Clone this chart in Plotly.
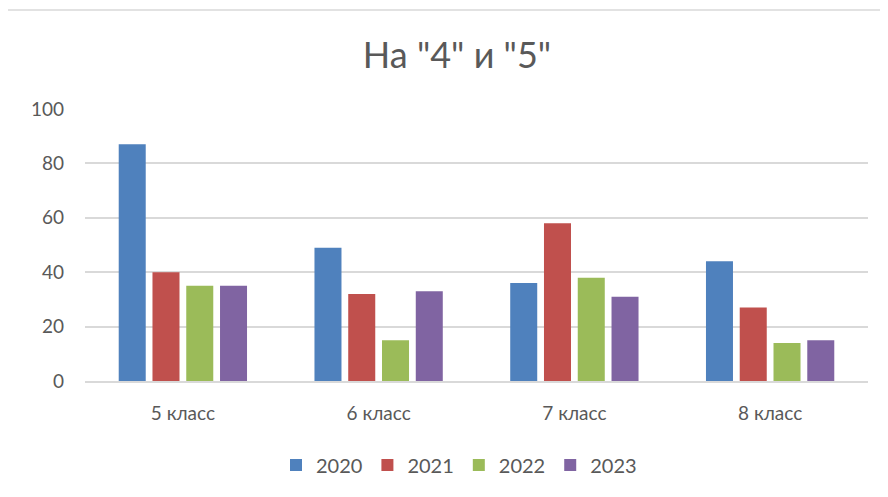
import plotly.graph_objects as go

categories = ["5 класс", "6 класс", "7 класс", "8 класс"]
years = ["2020", "2021", "2022", "2023"]
values_2020 = [87, 49, 36, 44]
values_2021 = [40, 32, 58, 27]
values_2022 = [35, 15, 38, 14]
values_2023 = [35, 33, 31, 15]
y_ticks = [0, 20, 40, 60, 80, 100]

colors = ["#4F81BD", "#C0504D", "#9BBB59", "#8064A2"]
series = [values_2020, values_2021, values_2022, values_2023]

# the page puts the figure 8px in from the top-left corner
OFF = 8
W, H = 888, 497
ML, MT = 85 - OFF, 109 - OFF
pw, ph = 783, 272
MR, MB = W - ML - pw, H - MT - ph


def px_to_paper(x, y):
    x, y = x - OFF, y - OFF
    return (x - ML) / pw, (H - MB - y) / ph


fig = go.Figure()
for year, vals, color in zip(years, series, colors):
    fig.add_trace(go.Bar(
        x=categories, y=vals, name=year,
        marker={"color": color, "line": {"width": 0}},
    ))

# light chart border (left and top edges visible in the reference)
x0, y0 = px_to_paper(5, 10)
x1, y1 = px_to_paper(W + 20, H + 20)
fig.add_shape(type="line", xref="paper", yref="paper", x0=x0, y0=y0, x1=x0, y1=y1,
              line={"color": "#D9D9D9", "width": 1.5})
fig.add_shape(type="line", xref="paper", yref="paper", x0=x0, y0=y0, x1=x1, y1=y0,
              line={"color": "#D9D9D9", "width": 1.5})

fig.update_layout(
    width=W, height=H,
    margin={"l": ML, "r": MR, "t": MT, "b": MB},
    paper_bgcolor="white", plot_bgcolor="white",
    font={"family": "Lato, Carlito, sans-serif", "color": "#595959", "size": 18},
    title={"text": 'На "4" и "5"', "x": px_to_paper(457, 0)[0], "xref": "paper",
           "xanchor": "center",
           "y": 1 - (55 - OFF) / H, "yanchor": "middle",
           "font": {"size": 36, "color": "#595959"}},
    barmode="group", bargap=0.31, bargroupgap=0.2,
    showlegend=True,
    legend={"orientation": "h", "x": px_to_paper(459, 0)[0], "xanchor": "center",
            "y": px_to_paper(0, 465)[1], "yanchor": "middle",
            "font": {"size": 20}, "itemwidth": 30, "traceorder": "normal"},
    xaxis={"showgrid": False, "showline": True, "linecolor": "#D9D9D9", "linewidth": 2,
           "ticks": "", "tickfont": {"size": 19}, "ticklabelstandoff": 14},
    yaxis={"range": [0, 100], "tickvals": y_ticks, "showgrid": True,
           "gridcolor": "#D9D9D9", "gridwidth": 2, "zeroline": False,
           "showline": False, "ticks": "", "tickfont": {"size": 19},
           "ticklabelstandoff": 20},
)

fig.write_html("out.html")
